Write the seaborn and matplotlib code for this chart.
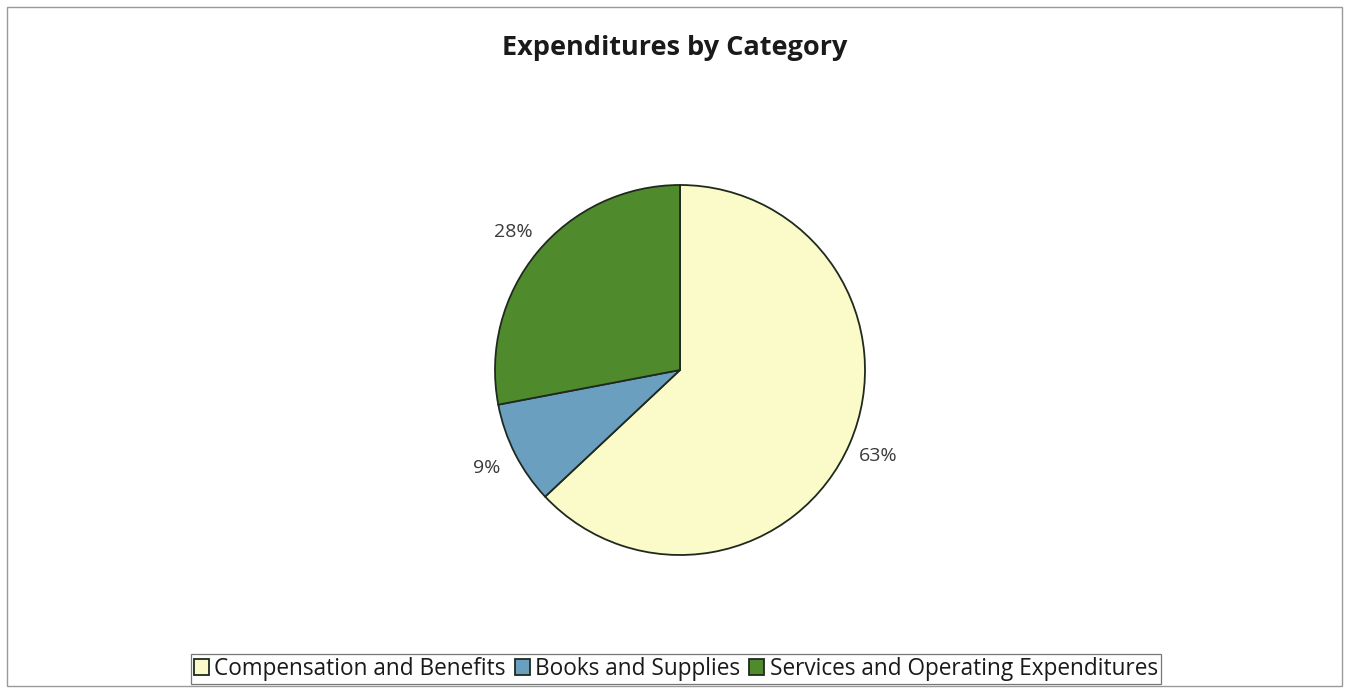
import matplotlib
matplotlib.use("Agg")
import matplotlib.pyplot as plt
from matplotlib.patches import Rectangle
import seaborn as sns

categories = ["Compensation and Benefits", "Books and Supplies", "Services and Operating Expenditures"]
shares = [63, 9, 28]
slice_colors = ["#FBFBC9", "#6A9FBF", "#4F8B2C"]
title_text = "Expenditures by Category"

sns.set_theme(style="white")
plt.rcParams["font.family"] = ["Open Sans", "DejaVu Sans"]

fig = plt.figure(figsize=(13.49, 6.93), dpi=100)
fig.patch.set_facecolor("white")

# Outer chart frame
fig.patches.append(Rectangle((0.005, 0.01), 0.99, 0.98, transform=fig.transFigure,
                             fill=False, edgecolor="#9a9a9a", linewidth=1.0))

# Pie: center ~ (680, 370) px, radius ~185 px
cx, cy, r = 680 / 1349, 1 - 370 / 693, 185
w = 2 * r / 1349
h = 2 * r / 693
ax = fig.add_axes([cx - w / 2, cy - h / 2, w, h])
wedges, texts, autotexts = ax.pie(
    shares, colors=slice_colors, startangle=90, counterclock=False,
    autopct=lambda p: f"{p:.0f}%", pctdistance=1.17,
    wedgeprops=dict(edgecolor="#1f2a1f", linewidth=1.3),
    textprops=dict(fontsize=14, color="#3a3a3a"),
    radius=1.0,
)
ax.set_xlim(-1.0, 1.0)
ax.set_ylim(-1.0, 1.0)
ax.set_aspect("equal")
ax.axis("off")

fig.text(0.5, 1 - 48 / 693, title_text, ha="center", va="center",
         fontsize=19.5, fontweight="bold", color="#1a1a1a")

leg = fig.legend(wedges, categories, loc="center", bbox_to_anchor=(676 / 1349, 1 - 669 / 693),
                 ncol=3, frameon=True, fontsize=16.3, handlelength=0.65, handleheight=0.65,
                 handletextpad=0.25, columnspacing=0.4, borderpad=0.15, fancybox=False)
leg.get_frame().set_edgecolor("#555555")
leg.get_frame().set_linewidth(0.9)
for t in leg.get_texts():
    t.set_color("#1a1a1a")

fig.savefig("out.png", dpi=100, facecolor="white")
